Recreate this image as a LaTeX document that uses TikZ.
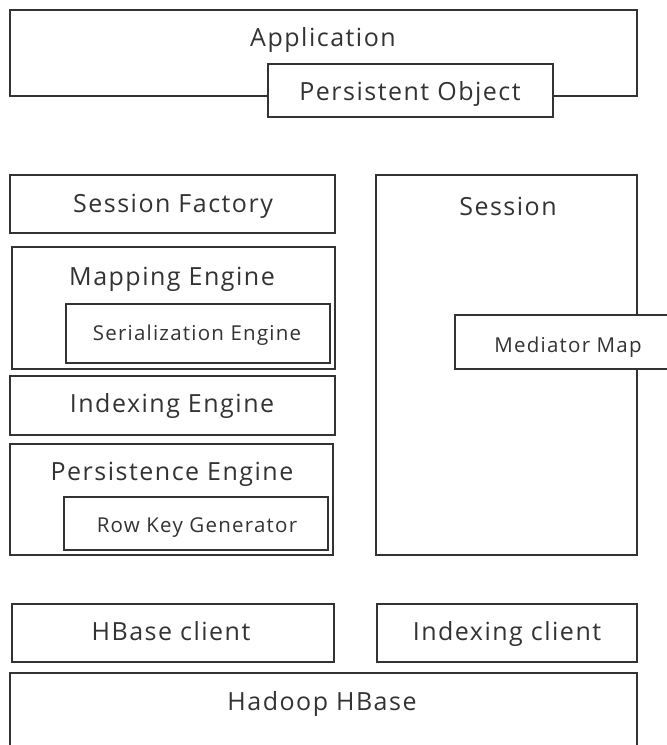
\documentclass[tikz,border=0pt]{standalone}
\usepackage{fontspec}
\setmainfont{Open Sans}[LetterSpace=6]
\begin{document}
\begin{tikzpicture}[x=1pt,y=-1pt,
  box/.style={draw=black!80, line width=1.6pt, fill=white, rectangle, anchor=north west, inner sep=0pt, outer sep=0pt},
  big/.style={font=\fontsize{25}{28}\selectfont, text=black!80, inner sep=0pt, anchor=base},
  small/.style={font=\fontsize{20.5}{23}\selectfont, text=black!80, inner sep=0pt, anchor=base}]
\useasboundingbox (0,0) rectangle (667,745);
\clip (0,0) rectangle (667,745);
% Application
\node[box, minimum width=627pt, minimum height=86pt] (app) at (10,10) {};
\node[big] (appt) at (323,46) {Application};
\node[box, minimum width=285pt, minimum height=53pt] (po) at (268,64) {};
\node[big] (pot) at (410,100) {Persistent Object};
% left stack
\node[box, minimum width=325pt, minimum height=58pt] (sf) at (10,175) {};
\node[big] (sft) at (173,212) {Session Factory};
\node[box, minimum width=323pt, minimum height=122pt] (me) at (12,247) {};
\node[big] (met) at (172,285) {Mapping Engine};
\node[box, minimum width=264pt, minimum height=59pt] (se) at (66,304) {};
\node[small] (set) at (197,340) {Serialization Engine};
\node[box, minimum width=325pt, minimum height=59pt] (ie) at (10,376) {};
\node[big] (iet) at (172,412) {Indexing Engine};
\node[box, minimum width=323pt, minimum height=111pt] (pe) at (10,444) {};
\node[big] (pet) at (172,480) {Persistence Engine};
\node[box, minimum width=264pt, minimum height=53pt] (rk) at (64,497) {};
\node[small] (rkt) at (197,532) {Row Key Generator};
% Session
\node[box, minimum width=261pt, minimum height=380pt] (ses) at (376,175) {};
\node[big] (sest) at (508,215) {Session};
\node[box, minimum width=230pt, minimum height=54pt] (mm) at (455,315) {};
\node[small] (mmt) at (568,352) {Mediator Map};
% bottom
\node[box, minimum width=322pt, minimum height=58pt] (hc) at (12,604) {};
\node[big] (hct) at (171,640) {HBase client};
\node[box, minimum width=260pt, minimum height=58pt] (ic) at (377,604) {};
\node[big] (ict) at (507,640) {Indexing client};
\node[box, minimum width=627pt, minimum height=100pt] (hh) at (10,673) {};
\node[big] (hht) at (322,710) {Hadoop HBase};
\end{tikzpicture}
\end{document}
